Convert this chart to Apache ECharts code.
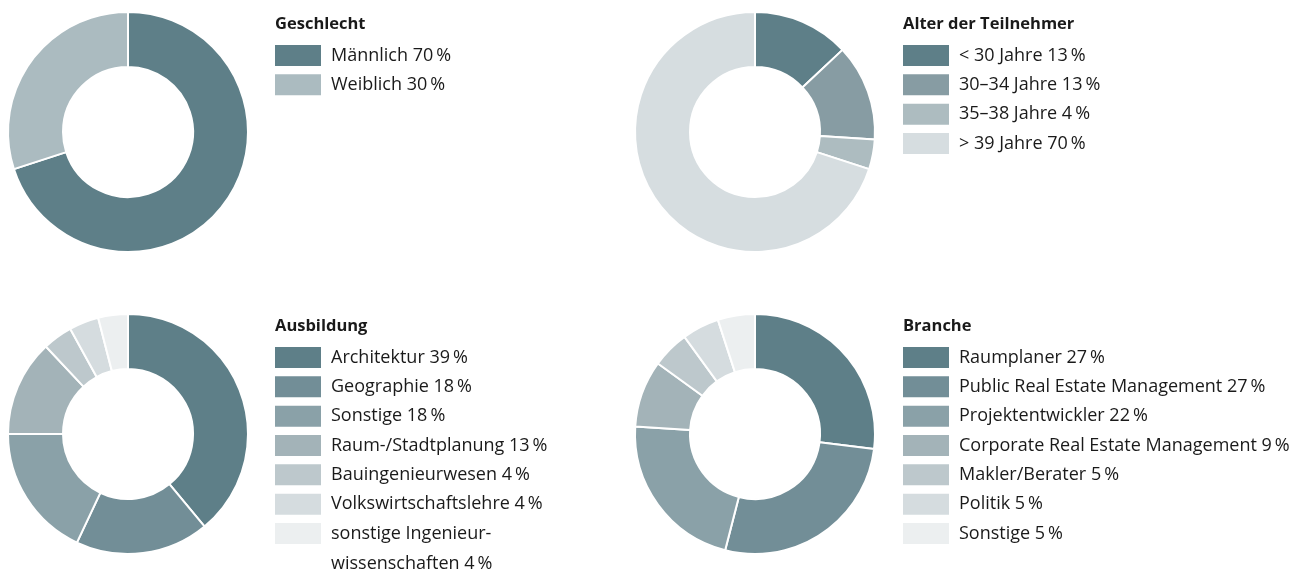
<!DOCTYPE html>
<html>
<head>
<meta charset="utf-8">
<script src="https://cdn.jsdelivr.net/npm/echarts@6/dist/echarts.min.js"></script>
<style>
  html, body { margin: 0; padding: 0; background: #fff; }
  #chart { width: 1304px; height: 574px; }
</style>
</head>
<body>
<div id="chart"></div>
<script>
const geschlechtLabels = ['Männlich', 'Weiblich'];
const geschlechtValues = [70, 30];
const geschlechtColors = ['#5e7f88', '#abbbc0'];

const alterLabels = ['< 30 Jahre', '30–34 Jahre', '35–38 Jahre', '> 39 Jahre'];
const alterValues = [13, 13, 4, 70];
const alterColors = ['#5e7f88', '#879ca3', '#adbcc0', '#d6dde0'];

const ausbildungLabels = ['Architektur', 'Geographie', 'Sonstige', 'Raum-/Stadtplanung',
  'Bauingenieurwesen', 'Volkswirtschaftslehre', 'sonstige Ingenieur-\nwissenschaften'];
const ausbildungValues = [39, 18, 18, 13, 4, 4, 4];

const brancheLabels = ['Raumplaner', 'Public Real Estate Management', 'Projektentwickler',
  'Corporate Real Estate Management', 'Makler/Berater', 'Politik', 'Sonstige'];
const brancheValues = [27, 27, 22, 9, 5, 5, 5];

const sevenColors = ['#5e7f88', '#728e97', '#8aa1a8', '#a3b3b8', '#bdc8cc', '#d5dcdf', '#eceff0'];

const FONT = '"Open Sans", "Noto Sans", sans-serif';
const TEXT_COLOR = '#1a1a1a';
const SWATCH_H = 21;
const ROW_STEP = 29.33;
const WRAP_LINE_H = 30;

const panels = [
  { title: 'Geschlecht', labels: geschlechtLabels, values: geschlechtValues, colors: geschlechtColors, cx: 128, cy: 132, lx: 275, ty: 16, ly: 45 },
  { title: 'Alter der Teilnehmer', labels: alterLabels, values: alterValues, colors: alterColors, cx: 755, cy: 132, lx: 903, ty: 16, ly: 45 },
  { title: 'Ausbildung', labels: ausbildungLabels, values: ausbildungValues, colors: sevenColors, cx: 128, cy: 434, lx: 275, ty: 318, ly: 347 },
  { title: 'Branche', labels: brancheLabels, values: brancheValues, colors: sevenColors, cx: 755, cy: 434, lx: 903, ty: 318, ly: 347 }
];

// name shown in legend = label + percent, also keeps names unique across panels
const itemName = (label, v) => label + ' ' + v + '\u2009%';

const baseLegend = (left, top) => ({
  orient: 'vertical',
  left: left,
  top: top,
  padding: 0,
  itemWidth: 46,
  itemHeight: SWATCH_H,
  itemGap: ROW_STEP - SWATCH_H,
  icon: 'rect',
  itemStyle: { borderWidth: 0 },
  selectedMode: false,
  textStyle: { fontFamily: FONT, fontSize: 18, color: TEXT_COLOR, lineHeight: SWATCH_H, padding: [0, 0, 0, 5] }
});

// one legend per panel for single-line entries, an extra one for each wrapped entry.
// echarts centres the text on the swatch, so a blank line goes on top (first text line
// then sits beside the swatch) and the legend is moved up by the overhang.
const legends = [];
panels.forEach((p) => {
  const names = p.labels.map((l, i) => itemName(l, p.values[i]));
  legends.push(Object.assign(baseLegend(p.lx, p.ly), {
    data: names.filter((n) => n.indexOf('\n') < 0)
  }));
  names.forEach((n, i) => {
    if (n.indexOf('\n') < 0) return;
    const lines = n.split('\n').length + 1;
    const overhang = (lines * WRAP_LINE_H - SWATCH_H) / 2;
    const lg = baseLegend(p.lx, p.ly + i * ROW_STEP - overhang);
    lg.textStyle.lineHeight = WRAP_LINE_H;
    lg.formatter = (name) => '\u00a0\n' + name;
    lg.data = [n];
    legends.push(lg);
  });
});

const option = {
  backgroundColor: '#fff',
  animation: false,
  title: panels.map((p) => ({
    text: p.title,
    left: p.lx,
    top: p.ty,
    padding: 0,
    textStyle: { fontFamily: FONT, fontSize: 16.5, fontWeight: 'bold', color: TEXT_COLOR }
  })),
  legend: legends,
  series: panels.map((p) => ({
    type: 'pie',
    center: [p.cx, p.cy],
    radius: [65, 120],
    startAngle: 90,
    clockwise: true,
    silent: true,
    label: { show: false },
    labelLine: { show: false },
    itemStyle: { borderColor: '#fff', borderWidth: 2 },
    data: p.labels.map((l, i) => ({
      name: itemName(l, p.values[i]),
      value: p.values[i],
      itemStyle: { color: p.colors[i] }
    }))
  }))
};

const chart = echarts.init(document.getElementById('chart'));
chart.setOption(option);
</script>
</body>
</html>
